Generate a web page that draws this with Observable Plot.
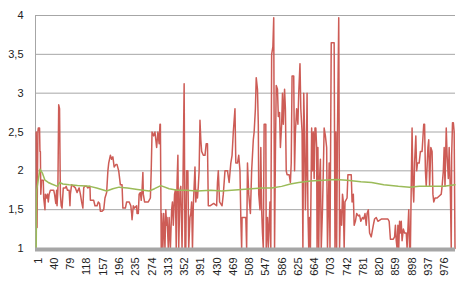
<!DOCTYPE html>
<html><head><meta charset="utf-8">
<script src="https://cdn.jsdelivr.net/npm/d3@7"></script>
<script src="https://cdn.jsdelivr.net/npm/@observablehq/plot@0.6"></script>
<style>body{margin:0;background:#fff} svg{display:block}</style>
</head><body><div id="chart"></div>
<script>
const xTicks = [1,40,79,118,157,196,235,274,313,352,391,430,469,508,547,586,625,664,703,742,781,820,859,898,937,976];
const yTicks = [1,1.5,2,2.5,3,3.5,4];
const yLabels = ["1","1,5","2","2,5","3","3,5","4"];

const redIndex = [1,2,3,5,6,9,10,11,12,14,18,19,22,23,26,28,30,32,35,43,45,48,50,51,53,55,57,59,61,63,66,71,73,76,80,82,83,86,91,95,99,104,107,110,113,115,117,122,125,130,131,139,142,147,150,153,155,159,163,166,170,173,175,177,179,182,185,188,192,195,199,203,207,209,215,218,224,228,230,231,234,237,242,243,246,248,251,253,255,257,258,261,270,275,277,279,283,286,290,293,296,298,299,301,302,305,307,310,312,314,315,318,320,323,326,328,330,333,335,337,339,341,343,346,348,351,353,356,358,360,362,365,367,370,372,374,376,378,382,384,386,388,390,392,394,396,398,402,406,409,412,414,418,427,434,436,438,441,447,450,454,460,464,468,471,474,478,480,484,487,490,492,494,495,504,506,508,511,515,518,520,522,524,527,529,532,534,535,538,540,542,544,546,548,552,553,556,558,562,564,566,569,571,573,575,577,580,582,585,587,590,592,594,597,599,601,603,608,611,613,615,619,621,623,626,629,631,634,636,639,641,643,645,647,649,651,653,655,657,659,662,664,666,668,670,672,674,675,677,679,681,683,685,688,690,692,695,698,700,702,704,706,709,716,718,720,722,724,727,729,731,734,736,738,740,742,747,749,753,757,759,762,764,767,770,774,777,780,784,787,790,793,795,798,801,805,810,813,817,821,830,840,845,848,851,858,861,863,865,867,869,871,873,875,877,879,882,885,889,891,893,895,897,899,901,903,905,907,909,912,914,916,920,923,927,931,933,935,937,941,943,945,948,951,953,955,958,963,969,973,975,978,980,982,985,987,990,992,995,997,998,1000,1002,1004,1006];
const redValue = [2.5,1.3,1.27,2.5,2.55,2.55,2.25,2.25,1.7,1.88,1.88,1.65,1.5,1.7,1.65,1.7,1.6,1.7,1.75,1.75,1.7,1.58,1.75,1.55,1.75,2.85,2.8,1.7,1.55,1.52,1.78,1.78,1.8,1.75,1.75,1.55,1.7,1.82,1.8,1.78,1.72,1.78,1.7,1.6,1.52,1.78,1.8,1.8,1.78,1.8,1.62,1.62,1.55,1.55,1.6,1.58,1.48,1.48,1.5,1.65,1.72,2.0,2.1,2.15,2.2,2.15,2.18,2.05,2.08,2.08,2.0,1.82,1.82,1.52,1.52,1.6,1.6,1.55,1.45,1.37,1.55,1.52,1.55,1.45,1.45,1.7,1.72,1.62,1.75,1.98,1.7,1.6,1.6,1.65,2.0,2.5,2.45,2.5,2.3,2.5,2.35,2.6,2.6,1.0,1.45,1.0,1.45,1.0,1.5,1.3,1.4,1.0,1.4,1.0,1.5,1.6,1.3,1.7,1.75,1.0,1.85,2.2,1.0,1.75,1.8,1.0,1.75,3.12,1.0,1.0,2.0,2.0,1.0,1.4,1.45,1.6,1.0,1.55,2.05,1.6,1.75,1.65,1.8,2.0,2.65,2.4,2.25,2.2,2.2,2.35,2.35,1.55,1.55,1.58,1.55,1.85,2.0,1.6,1.55,1.7,2.0,2.0,1.85,2.1,2.2,2.5,2.8,2.1,2.1,2.2,2.0,1.4,1.0,1.4,1.4,1.0,2.1,1.7,1.45,2.0,2.2,2.4,2.5,2.8,3.2,3.05,2.6,1.7,1.5,2.3,1.5,1.2,1.0,2.6,2.6,1.0,1.4,1.0,1.6,1.0,3.5,3.6,3.97,1.0,2.2,3.1,3.05,2.7,2.75,2.3,2.6,3.0,2.6,3.05,2.8,2.0,1.95,1.95,1.85,2.1,3.22,3.22,2.0,2.5,2.8,2.6,3.0,3.38,2.8,2.5,1.0,3.0,2.5,1.5,2.0,3.0,1.5,1.0,1.4,1.0,2.55,2.0,2.5,1.9,2.55,2.55,2.3,1.0,2.3,1.0,1.9,2.15,1.0,1.5,2.0,2.55,2.45,2.3,1.0,1.5,2.1,1.0,3.65,3.65,1.0,2.5,1.0,2.5,3.97,1.0,1.5,1.3,1.7,1.6,1.0,1.6,1.65,1.95,1.95,1.95,1.6,1.7,1.3,1.35,1.45,1.42,1.43,1.35,1.4,1.38,1.45,1.3,1.45,1.5,1.2,1.15,1.3,1.38,1.4,1.35,1.38,1.38,1.38,1.35,1.12,1.12,1.15,1.3,1.1,1.0,1.3,1.0,1.35,1.2,1.35,1.1,1.25,1.2,1.2,1.0,1.25,1.5,1.0,1.0,1.8,2.55,1.8,1.6,2.1,2.45,2.0,2.1,2.1,2.25,2.25,2.6,2.6,2.0,1.8,2.3,2.4,1.8,2.3,2.25,1.7,1.6,1.65,1.65,1.68,1.7,1.8,2.0,2.3,1.8,2.55,2.2,1.9,2.3,1.7,1.0,2.2,2.62,2.62,2.5,1.0];

const greenIndex = [1,2,5,10,16,22,30,38,52,57,65,80,100,130,146,170,185,200,220,244,272,285,300,320,340,360,387,420,446,470,494,518,542,566,590,611,631,659,690,720,747,780,806,835,870,897,920,950,980,1006];
const greenValue = [1.0,1.75,1.85,2.02,1.97,1.88,1.85,1.83,1.8,1.85,1.83,1.82,1.81,1.8,1.78,1.74,1.77,1.79,1.78,1.76,1.74,1.77,1.81,1.77,1.75,1.75,1.74,1.75,1.74,1.75,1.76,1.77,1.78,1.78,1.8,1.83,1.85,1.87,1.88,1.89,1.88,1.86,1.85,1.82,1.8,1.79,1.8,1.8,1.8,1.82];

const xDomain = [-0.7, 1007.2];
const red = redIndex.map((i, k) => ({i, v: redValue[k]}));
const green = greenIndex.map((i, k) => ({i, v: greenValue[k]}));

const chart = Plot.plot({
  width: 471, height: 284,
  marginLeft: 35, marginRight: 16, marginTop: 15, marginBottom: 36,
  style: {fontFamily: "'Liberation Sans', Arial, sans-serif", fontSize: "11px", color: "#222", background: "#fff"},
  x: {domain: xDomain, label: null},
  y: {domain: [1, 4], label: null},
  marks: [
    Plot.gridY(yTicks.slice(1), {stroke: "#a6a6a6", strokeOpacity: 1, strokeWidth: 1}),
    Plot.ruleX([xDomain[0]], {stroke: "#a6a6a6", strokeWidth: 1}),
    Plot.line(red, {x: "i", y: "v", stroke: "#cd5c56", strokeWidth: 1.5}),
    Plot.line(green, {x: "i", y: "v", stroke: "#9bbb59", strokeWidth: 1.5}),
    Plot.ruleY([1], {stroke: "#a6a6a6", strokeWidth: 4, dy: 1}),
    Plot.axisY(yTicks, {tickSize: 0, tickPadding: 12, label: null, tickFormat: d => yLabels[yTicks.indexOf(d)]}),
    Plot.axisX(xTicks, {tickRotate: -90, tickSize: 0, tickPadding: 9, dx: 2, label: null, tickFormat: d => String(d)})
  ]
});
document.getElementById("chart").appendChild(chart);
</script>
</body></html>
